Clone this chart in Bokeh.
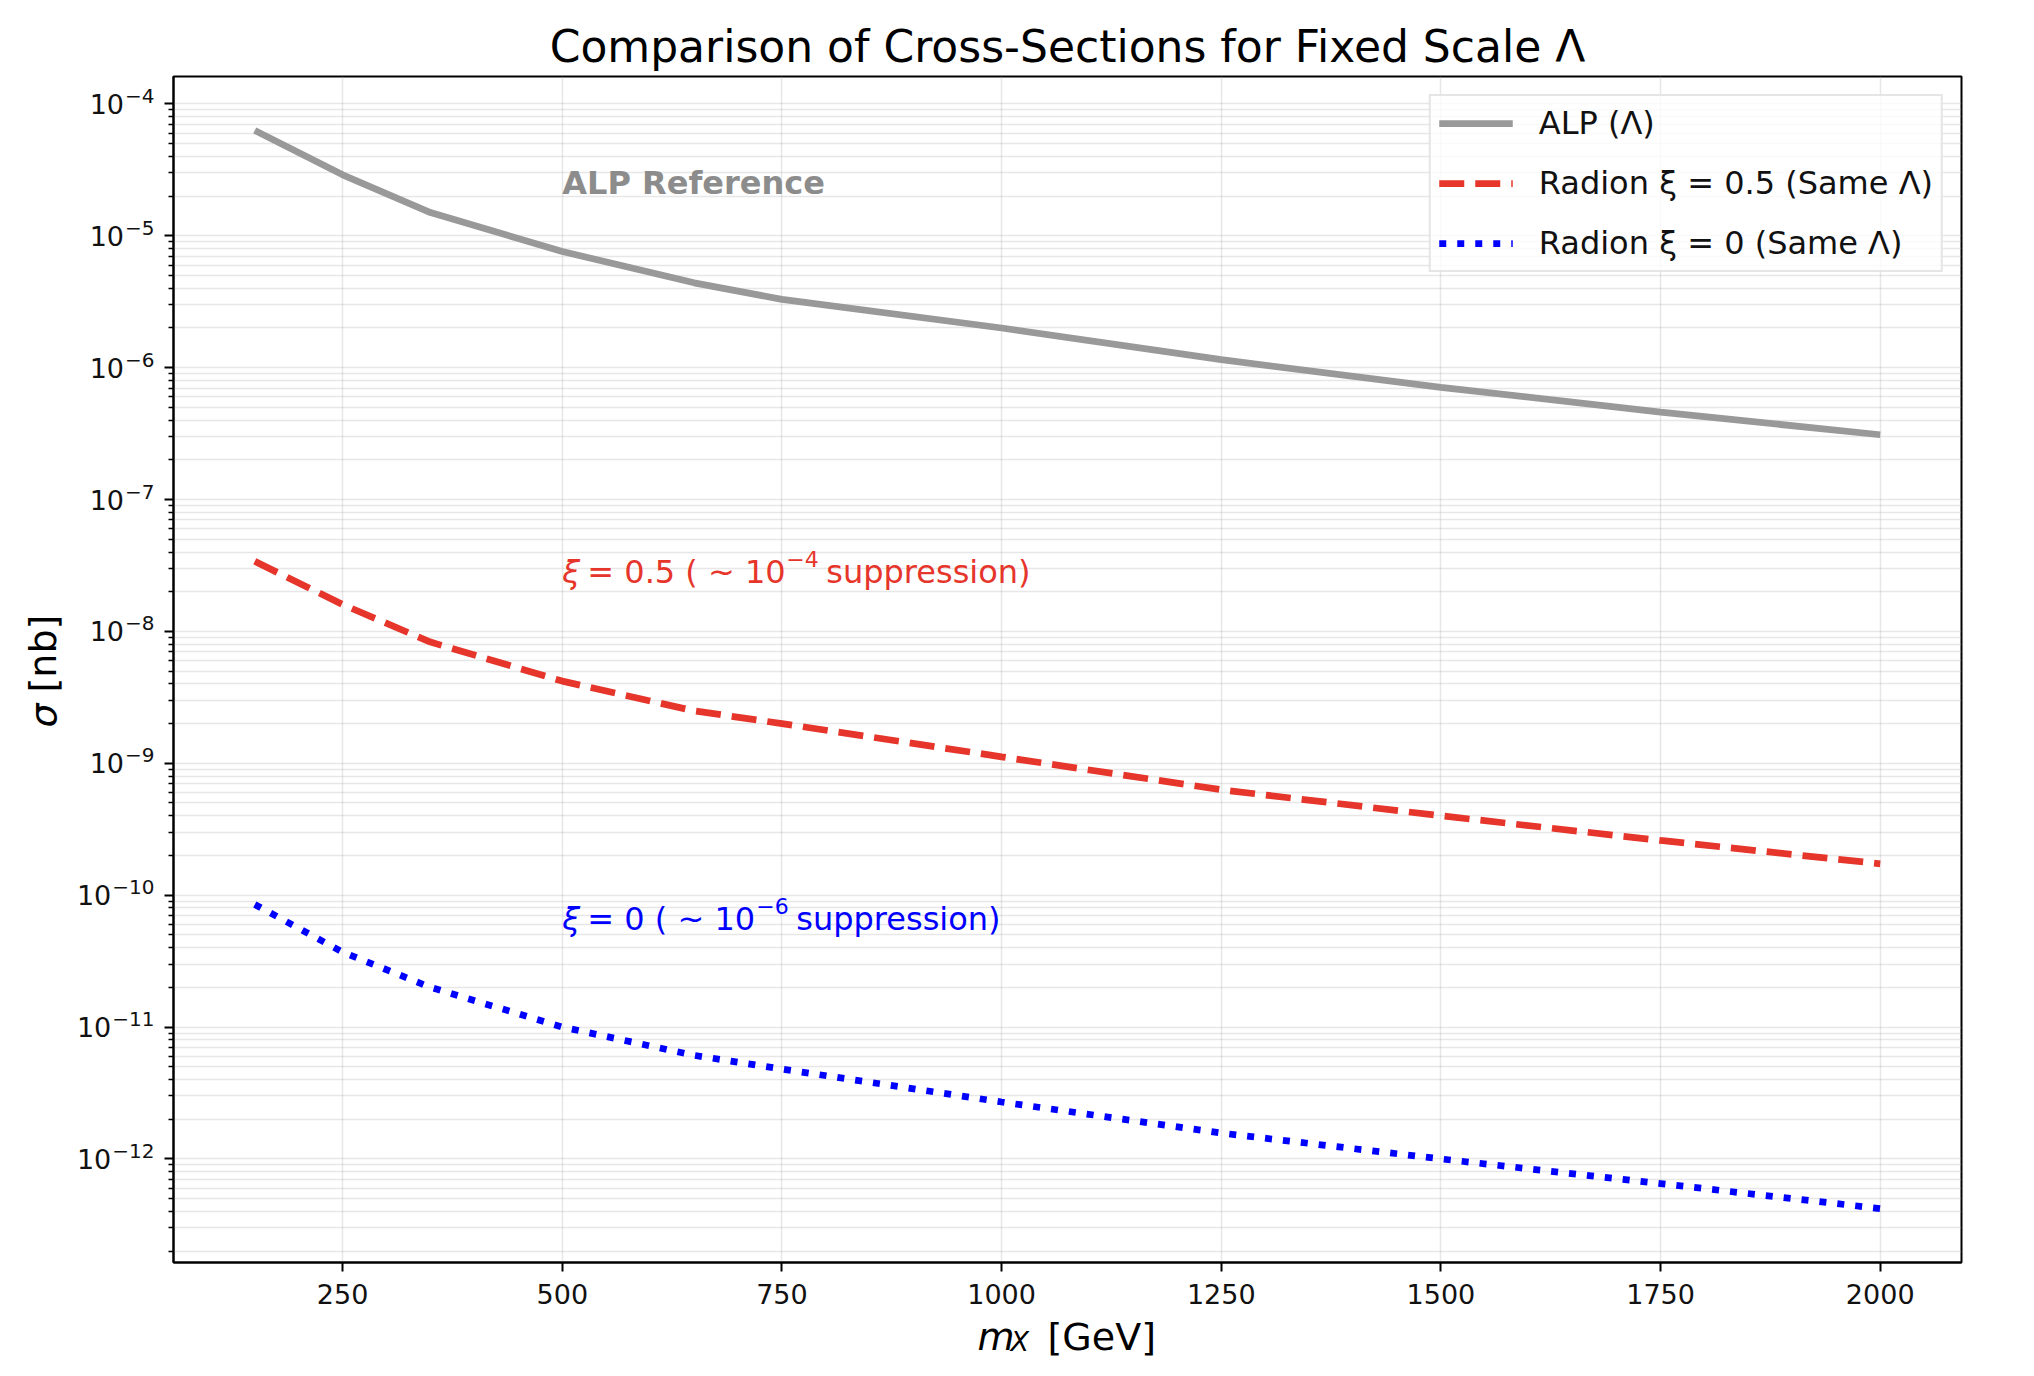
import math
from bokeh.plotting import figure
from bokeh.layouts import row, column
from bokeh.models import Range1d, FixedTicker, CustomJSTickFormatter, Label
from bokeh.core.properties import value
from bokeh.embed import file_html
from bokeh.resources import INLINE

# ---------------- data ----------------
mass = [150, 250, 350, 500, 650, 750, 1000, 1250, 1500, 1750, 2000]
sigma_alp = [6.3e-5, 2.9e-5, 1.5e-5, 7.6e-6, 4.4e-6, 3.3e-6, 2.0e-6, 1.15e-6, 7.1e-7, 4.6e-7, 3.1e-7]
sigma_rad05 = [3.4e-8, 1.6e-8, 8.3e-9, 4.2e-9, 2.5e-9, 2.0e-9, 1.12e-9, 6.3e-10, 4.0e-10, 2.6e-10, 1.73e-10]
sigma_rad0 = [8.5e-11, 3.7e-11, 2.0e-11, 1.0e-11, 6.1e-12, 4.8e-12, 2.7e-12, 1.57e-12, 1.0e-12, 6.5e-13, 4.2e-13]

x_ticks = [250, 500, 750, 1000, 1250, 1500, 1750, 2000]
x_tick_labels = ["250", "500", "750", "1000", "1250", "1500", "1750", "2000"]
y_exponents = list(range(-12, -3))  # 10^-12 .. 10^-4

labels = ["ALP (Λ)", "Radion ξ = 0.5 (Same Λ)", "Radion ξ = 0 (Same Λ)"]
title_text = "Comparison of Cross-Sections for Fixed Scale Λ"

# annotation anchors (data units)
ann_x = 500
ann_alp_y = 2.5e-5
ann_05_y = 2.8e-8
ann_0_y = 6.6e-11

# ---------------- styling / layout ----------------
FONT = "DejaVu Sans"
GRAY = "#999999"
RED = "#e6352b"
BLUE = "#0000ff"

W, H = 2018, 1360          # whole page area
FRAME_L, FRAME_R, FRAME_T, FRAME_B = 173, 1961, 76, 1262
LW = 160                   # left strip: y tick labels + y title
MW = W - LW
BL, BR, BT = FRAME_L - LW, W - FRAME_R, FRAME_T
BB = 12                    # main figure keeps only the tick marks below
MH = FRAME_B + BB
BH = H - MH                # bottom strip: x tick labels + x title

# ranges with 5% margins (matplotlib-like)
xmin, xmax = min(mass), max(mass)
xpad = 0.05 * (xmax - xmin)
xlo, xhi = xmin - xpad, xmax + xpad
all_y = sigma_alp + sigma_rad05 + sigma_rad0
lmin, lmax = math.log10(min(all_y)), math.log10(max(all_y))
lpad = 0.05 * (lmax - lmin)
ylo, yhi = 10 ** (lmin - lpad), 10 ** (lmax + lpad)

x_range = Range1d(xlo, xhi)
y_range = Range1d(ylo, yhi)

p = figure(width=MW, height=MH, y_axis_type="log", x_range=x_range, y_range=y_range,
           output_backend="svg", toolbar_location=None,
           min_border_left=BL, min_border_right=BR,
           min_border_top=BT, min_border_bottom=BB)

p.title.text = title_text
p.title.align = "center"
p.title.text_font = FONT
p.title.text_font_size = "44px"
p.title.text_font_style = "normal"
p.title.text_color = "black"
p.title.standoff = 9

p.background_fill_color = "white"
p.border_fill_color = "white"
p.outline_line_color = "black"
p.outline_line_width = 2
p.outline_line_alpha = 1.0

# ticks (labels are drawn in the side strips, on the same scales)
p.xaxis.ticker = FixedTicker(ticks=x_ticks)
major_y = [10.0 ** e for e in y_exponents]
minor_y = [k * 10.0 ** e for e in range(-13, -3) for k in range(2, 10)]
p.yaxis.ticker = FixedTicker(ticks=major_y, minor_ticks=minor_y)
p.xaxis.formatter = CustomJSTickFormatter(code="return '';")
p.yaxis.formatter = CustomJSTickFormatter(code="return '';")

for ax in (p.xaxis[0], p.yaxis[0]):
    ax.axis_line_color = "black"
    ax.axis_line_width = 2
    ax.major_tick_line_color = "black"
    ax.major_tick_line_width = 2
    ax.major_tick_out = 9
    ax.major_tick_in = 0
    ax.minor_tick_line_color = "black"
    ax.minor_tick_line_width = 1.5
    ax.minor_tick_out = 5
    ax.minor_tick_in = 0
    ax.major_label_text_font_size = "0px"
    ax.major_label_standoff = 0
    ax.axis_label = None
p.xaxis.minor_tick_line_color = None

# grid
for g in (p.xgrid[0], p.ygrid[0]):
    g.grid_line_color = "#b0b0b0"
    g.grid_line_alpha = 0.3
    g.grid_line_width = 1.5
p.ygrid.minor_grid_line_color = "#b0b0b0"
p.ygrid.minor_grid_line_alpha = 0.3
p.ygrid.minor_grid_line_width = 1.5

# lines
p.line(mass, sigma_alp, line_color=GRAY, line_width=6.75, legend_label=labels[0])
p.line(mass, sigma_rad05, line_color=RED, line_width=6.75, line_dash="25 11", legend_label=labels[1])
p.line(mass, sigma_rad0, line_color=BLUE, line_width=6.75, line_dash="7 11", legend_label=labels[2])

# legend
lg = p.legend[0]
lg.location = "top_right"
lg.margin = 18
lg.padding = 8
lg.spacing = 22
lg.label_text_font = FONT
lg.label_text_font_size = "32px"
lg.label_text_color = "#111111"
lg.label_height = 36
lg.glyph_height = 36
lg.glyph_width = 74
lg.label_standoff = 26
lg.border_line_color = "#cccccc"
lg.border_line_width = 2
lg.background_fill_color = "white"
lg.background_fill_alpha = 0.8


def add_text(fig, x, y, text, color, size="32px", style="normal", dx=0, dy=0,
             align="left", baseline="alphabetic", angle=0.0):
    fig.add_layout(Label(x=x, y=y, x_offset=dx, y_offset=dy, text=text, text_font=FONT,
                         text_font_size=size, text_font_style=style, text_color=color,
                         text_baseline=baseline, text_align=align, angle=angle))


# annotations in data space
add_text(p, ann_x, ann_alp_y, "ALP Reference", "#8c8c8c", style="bold")

add_text(p, ann_x, ann_05_y, "ξ", RED, style="italic")
add_text(p, ann_x, ann_05_y, "= 0.5 ( ~ 10", RED, dx=25)
add_text(p, ann_x, ann_05_y, "\u2212" + "4", RED, size="22px", dx=224, dy=13)
add_text(p, ann_x, ann_05_y, "suppression)", RED, dx=264)

add_text(p, ann_x, ann_0_y, "ξ", BLUE, style="italic")
add_text(p, ann_x, ann_0_y, "= 0 ( ~ 10", BLUE, dx=25)
add_text(p, ann_x, ann_0_y, "\u2212" + "6", BLUE, size="22px", dx=194, dy=13)
add_text(p, ann_x, ann_0_y, "suppression)", BLUE, dx=234)


def blank(fig):
    fig.grid.visible = False
    fig.outline_line_color = None
    fig.background_fill_color = "white"
    fig.border_fill_color = "white"
    return fig


# ---------------- left strip: y tick labels (same log scale) + y title ----------------
ly = blank(figure(width=LW, height=H, x_range=Range1d(0, LW), y_range=y_range,
                  y_axis_type="log", x_axis_location=None, y_axis_location=None,
                  output_backend="svg", toolbar_location=None,
                  min_border_left=0, min_border_right=0,
                  min_border_top=FRAME_T, min_border_bottom=H - FRAME_B))

LABEL_RIGHT = 153
EXP_SIZE = 20
for e in y_exponents:
    exp_txt = "\u2212" + str(-e)
    exp_w = EXP_SIZE * (0.838 + 0.636 * len(str(-e)))
    xa = LABEL_RIGHT - exp_w
    add_text(ly, xa, 10.0 ** e, "10", "#111111", size="27px", align="right",
             baseline="middle", dy=0)
    add_text(ly, xa + 1, 10.0 ** e, exp_txt, "#111111", size=f"{EXP_SIZE}px",
             baseline="middle", dy=8)


def canvas_y_to_data(cy):
    frac = (cy - FRAME_T) / (FRAME_B - FRAME_T)
    return 10 ** ((lmax + lpad) - frac * ((lmax + lpad) - (lmin - lpad)))


add_text(ly, 42, canvas_y_to_data(727), "σ", "black", size="38px", style="italic",
         angle=math.pi / 2, baseline="middle")
add_text(ly, 42, canvas_y_to_data(692), "[nb]", "black", size="38px",
         angle=math.pi / 2, baseline="middle")

# ---------------- bottom strip: x tick labels (same x scale) + x title ----------------
bx = blank(figure(width=MW, height=BH, x_range=x_range, y_range=Range1d(0, BH),
                  x_axis_location=None, y_axis_location=None, output_backend="svg",
                  toolbar_location=None, min_border_left=BL, min_border_right=BR,
                  min_border_top=0, min_border_bottom=0))

bx.text(x=x_ticks, y=[H - 1293] * len(x_ticks), text=x_tick_labels, text_font=value(FONT),
        text_font_size="27px", text_baseline="alphabetic", text_align="center",
        text_color="#111111")


def canvas_x_to_data(cx):
    return xlo + (cx - FRAME_L) / (FRAME_R - FRAME_L) * (xhi - xlo)


base = H - 1336
bx.text(x=[canvas_x_to_data(977)], y=[base], text=["m"], text_font=value(FONT),
        text_font_size="38px", text_font_style="italic", text_baseline="alphabetic",
        text_align="left", text_color="black")
bx.text(x=[canvas_x_to_data(1010)], y=[base - 5], text=["X"], text_font=value(FONT),
        text_font_size="27px", text_font_style="italic", text_baseline="alphabetic",
        text_align="left", text_color="black")
bx.text(x=[canvas_x_to_data(1047)], y=[base], text=["[GeV]"], text_font=value(FONT),
        text_font_size="38px", text_baseline="alphabetic", text_align="left",
        text_color="black")

layout = row(ly, column(p, bx, spacing=0), spacing=0)

open("out.html", "w").write(file_html(layout, INLINE))
